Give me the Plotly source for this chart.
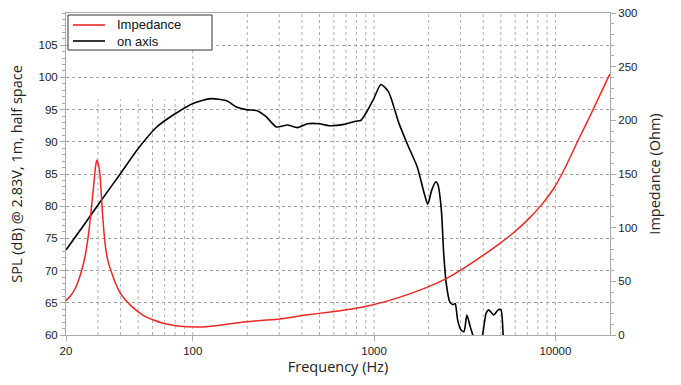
import math
import plotly.graph_objects as go

# ---- data ----
spl_freq = [20, 25, 30.9, 39.8, 49.2, 63.3, 78.4, 101, 126, 153, 174, 197, 228, 254, 289,
            333, 378, 430, 498, 566, 683, 790, 842, 900, 975, 1000, 1090, 1200, 1370, 1550,
            1730, 1890, 1977, 2079, 2194, 2253, 2350, 2420, 2500, 2610, 2720, 2800, 2890,
            3010, 3130, 3250, 3390, 3500, 3700, 3980, 4150, 4290, 4570, 4830, 5010, 5150, 5250]
spl_db = [73.2, 77.0, 80.7, 85.0, 88.7, 92.3, 94.2, 96.0, 96.7, 96.4, 95.4, 95.0, 94.8, 93.9, 92.3,
          92.6, 92.2, 92.8, 92.8, 92.5, 92.7, 93.2, 93.3, 94.4, 96.2, 96.8, 98.9, 97.8, 92.9, 89.2,
          86.1, 82.0, 80.3, 82.5, 83.8, 83.3, 79.4, 72.7, 68.0, 65.2, 64.7, 64.9, 62.3,
          60.8, 60.5, 63.1, 61.3, 60.0, 56.5, 60.3, 63.4, 63.9, 63.1, 63.9, 63.9, 60.0, 57.0]

imp_freq = [20, 21.2, 22.6, 23.4, 24.2, 25.6, 26.9, 27.9, 28.5, 29.1, 29.6, 30.6, 31.2, 31.7,
            32.3, 32.9, 33.6, 34.4, 35.8, 37.5, 39.9, 42.6, 46.2, 50.5, 54.8, 60.8, 67.1, 75,
            82.5, 107, 135, 196, 294, 420, 590, 791, 976, 1203, 1957, 2514, 3780, 4860,
            5850, 7050, 8360, 9810, 11150, 13370, 15620, 19660, 20000]
imp_ohm = [32.0, 36.6, 44, 50.5, 58, 75, 100, 125.8, 141, 156.8, 163, 153.7, 135, 116.5,
           98, 84, 74, 66.5, 57.5, 48.2, 38.8, 32.6, 26.4, 21.1, 17.1, 14, 11.5, 9.6,
           8.4, 7.5, 8.7, 12.4, 14.6, 18.6, 21.7, 24.9, 28, 32, 44.4, 52.8, 71.5, 84.5,
           95, 107.5, 121, 136.7, 153.7, 181.7, 205, 240.7, 243]

series_names = ["Impedance", "on axis"]
x_ticks = [20, 100, 1000, 10000]
x_ticktext = ["20", "100", "1000", "10000"]
y_ticks = [60, 65, 70, 75, 80, 85, 90, 95, 100, 105]
grid_low = [30, 40, 50, 60, 70, 80, 90]
grid_full = [100, 200, 300, 400, 500, 600, 700, 800, 900, 1000, 2000, 3000, 4000, 5000,
             6000, 7000, 8000, 9000, 10000]

RED = "rgb(235,40,35)"
TICKFONT = dict(family="Liberation Sans, Arial, sans-serif", size=11.5, color="#222")
TITLEFONT = dict(family="Open Sans, Noto Sans, sans-serif", size=14.5, color="#222")
AXC = "#aaaaaa"

W, H = 681, 385
ML, MR, MT, MB = 66, 71, 13, 50
PW, PH = W - ML - MR, H - MT - MB


def px(xp):
    return (xp - ML) / PW


def py(yp):
    return (H - MB - yp) / PH


fig = go.Figure()
fig.add_trace(go.Scatter(x=imp_freq, y=imp_ohm, name=series_names[0], yaxis="y2", mode="lines",
                         line=dict(color=RED, width=1.5, shape="spline", smoothing=0.6)))
fig.add_trace(go.Scatter(x=spl_freq, y=spl_db, name=series_names[1], mode="lines",
                         line=dict(color="black", width=1.6, shape="spline", smoothing=0.6)))

shapes = []
for f in grid_low:
    shapes.append(dict(type="line", xref="x", yref="y", x0=f, x1=f, y0=60, y1=96.6,
                       line=dict(color="#b0b0b0", width=1, dash="dot"), layer="below"))
for f in grid_full:
    shapes.append(dict(type="line", xref="x", yref="paper", x0=f, x1=f, y0=0, y1=1,
                       line=dict(color="#b0b0b0", width=1, dash="dot"), layer="below"))

# legend box drawn manually
shapes.append(dict(type="rect", xref="paper", yref="paper", x0=px(68), x1=px(212), y0=py(50), y1=py(15),
                   fillcolor="white", line=dict(color="#333", width=1), layer="above"))
annotations = []
for i, (name, col) in enumerate(zip(series_names, [RED, "black"])):
    yy = 25 + 16 * i
    shapes.append(dict(type="line", xref="paper", yref="paper", x0=px(73), x1=px(105),
                       y0=py(yy), y1=py(yy), line=dict(color=col, width=1.6), layer="above"))
    annotations.append(dict(xref="paper", yref="paper", x=px(115), y=py(yy), text=name,
                            xanchor="left", yanchor="middle", showarrow=False,
                            font=dict(family="Liberation Sans, Arial, sans-serif", size=13, color="#111")))

fig.update_layout(
    width=W, height=H,
    margin=dict(l=ML, r=MR, t=MT, b=MB, autoexpand=False),
    paper_bgcolor="white", plot_bgcolor="white",
    shapes=shapes, annotations=annotations,
    showlegend=False,
    xaxis=dict(type="log", range=[math.log10(20), math.log10(20000)],
               tickvals=x_ticks, ticktext=x_ticktext, tickfont=TICKFONT,
               ticks="outside", ticklen=5, tickcolor=AXC,
               showline=True, linecolor=AXC, linewidth=1, mirror=True,
               showgrid=False, zeroline=False, automargin=False,
               title=dict(text="Frequency (Hz)", font=TITLEFONT, standoff=5)),
    yaxis=dict(range=[60, 110], tickvals=y_ticks, tickfont=TICKFONT,
               ticks="outside", ticklen=5, tickcolor=AXC,
               minor=dict(dtick=1, ticklen=3, tickcolor=AXC, ticks="outside", showgrid=False),
               showline=True, linecolor=AXC, linewidth=1,
               showgrid=True, gridcolor="#a0a0a0", griddash="dot", gridwidth=1,
               zeroline=False, automargin=False,
               title=dict(text="SPL (dB) @ 2.83V, 1m, half space", font=TITLEFONT, standoff=12)),
    yaxis2=dict(range=[0, 300], dtick=50, tick0=0, tickfont=TICKFONT, overlaying="y", side="right",
                ticks="outside", ticklen=5, tickcolor=AXC,
                minor=dict(dtick=10, ticklen=3, tickcolor=AXC, ticks="outside", showgrid=False),
                showline=True, linecolor=AXC, linewidth=1, showgrid=False, zeroline=False,
                automargin=False,
                title=dict(text="Impedance (Ohm)", font=TITLEFONT, standoff=13)),
)

fig.write_html("out.html", config={"displayModeBar": False},
               post_script="document.body.style.margin='0';")
